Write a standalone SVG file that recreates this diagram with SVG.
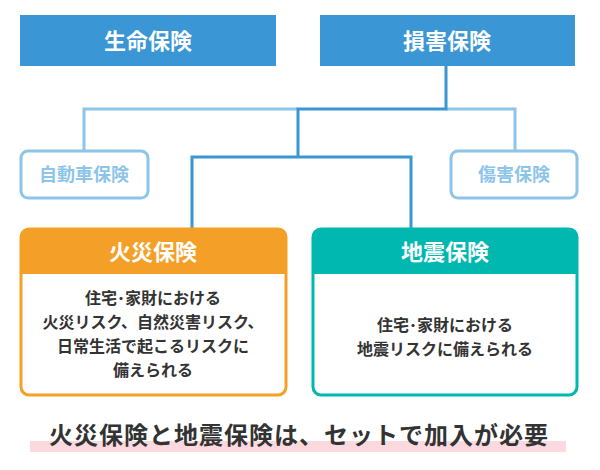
<svg xmlns="http://www.w3.org/2000/svg" width="600" height="470" viewBox="0 0 600 470">
<style>
text{font-family:"Noto Sans CJK JP","Noto Sans",sans-serif;text-anchor:middle;font-weight:bold}
.top{fill:#3a96d4}.tt{fill:#fff;font-size:22px}
.sub{fill:#fff;stroke:#8cc4ea;stroke-width:3}.st{fill:#8cc4ea;font-size:18px}
.body{fill:#333;font-size:16px}
</style>
<rect width="600" height="470" fill="#fff"/>
<g id="connectors" fill="none" stroke-width="3">
<path d="M84 150V109H298M446 109H515V150" stroke="#8cc4ea"/>
<path d="M446 66V109H298V157M192 229V157H411V229" stroke="#3a96d4"/>
</g>
<g id="seimei"><rect class="top" x="20" y="15" width="256" height="51"/><text class="tt" x="148" y="49">生命保険</text></g>
<g id="songai"><rect class="top" x="320" y="15" width="255" height="51"/><text class="tt" x="447" y="49">損害保険</text></g>
<g id="jidosha"><rect class="sub" x="21" y="151" width="127" height="47" rx="7"/><text class="st" x="84" y="181">自動車保険</text></g>
<g id="shogai"><rect class="sub" x="451" y="151" width="126" height="47" rx="7"/><text class="st" x="514" y="181">傷害保険</text></g>
<g id="kasai">
<rect x="21" y="229" width="265" height="166" rx="8" fill="#fff" stroke="#f4a028" stroke-width="3"/>
<path d="M21 274V237a8 8 0 0 1 8-8H278a8 8 0 0 1 8 8V274Z" fill="#f4a028"/>
<text class="tt" x="153" y="260">火災保険</text>
<text class="body" x="153" y="304">住宅･家財における</text>
<text class="body" x="153" y="328">火災リスク、自然災害リスク、</text>
<text class="body" x="153" y="352">日常生活で起こるリスクに</text>
<text class="body" x="153" y="376">備えられる</text>
</g>
<g id="jishin">
<rect x="313" y="229" width="264" height="166" rx="8" fill="#fff" stroke="#00b8b0" stroke-width="3"/>
<path d="M313 274V237a8 8 0 0 1 8-8H569a8 8 0 0 1 8 8V274Z" fill="#00b8b0"/>
<text class="tt" x="445" y="260">地震保険</text>
<text class="body" x="445" y="331">住宅･家財における</text>
<text class="body" x="445" y="355">地震リスクに備えられる</text>
</g>
<g id="note">
<rect x="30" y="441" width="536" height="11" fill="#fbd9df"/>
<text x="299" y="444" fill="#333" style="font-size:24px;letter-spacing:1px">火災保険と地震保険は、セットで加入が必要</text>
</g>
</svg>
